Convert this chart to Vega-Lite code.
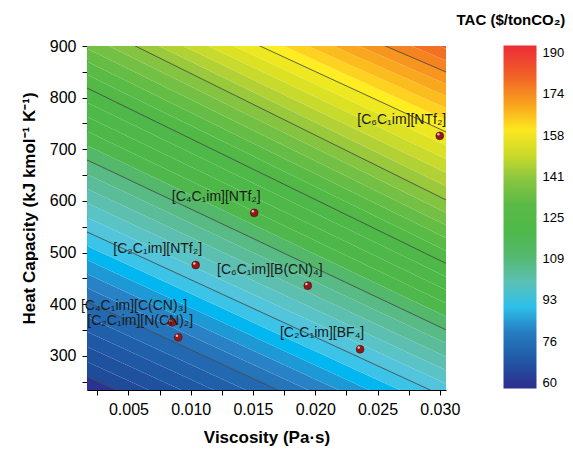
{
  "$schema": "https://vega.github.io/schema/vega-lite/v6.json",
  "width": 359,
  "height": 344,
  "autosize": {"type": "none"},
  "padding": {"left": 87, "top": 46, "right": 127, "bottom": 59},
  "background": "white",
  "config": {
    "font": "Liberation Sans",
    "view": {"stroke": null},
    "axis": {"grid": false, "domainColor": "#000", "tickColor": "#000", "labelColor": "#000", "titleColor": "#000", "tickSize": 5, "labelFontSize": 16, "titleFontSize": 17, "titleFontWeight": "bold", "labelPadding": 6}
  },
  "resolve": {"axis": {"x": "independent", "y": "independent"}},
  "datasets": {
    "bands": [
      {"t":58.375,"x":0.00167,"lo":230.5,"hi":259.5},{"t":58.375,"x":0.0305,"lo":-83.8,"hi":-55.9},
      {"t":61.625,"x":0.00167,"lo":259.5,"hi":288.5},{"t":61.625,"x":0.0305,"lo":-55.9,"hi":-28.0},
      {"t":64.875,"x":0.00167,"lo":288.5,"hi":317.5},{"t":64.875,"x":0.0305,"lo":-28.0,"hi":-0.2},
      {"t":68.125,"x":0.00167,"lo":317.5,"hi":346.6},{"t":68.125,"x":0.0305,"lo":-0.2,"hi":27.7},
      {"t":71.375,"x":0.00167,"lo":346.6,"hi":375.6},{"t":71.375,"x":0.0305,"lo":27.7,"hi":55.5},
      {"t":74.625,"x":0.00167,"lo":375.6,"hi":404.6},{"t":74.625,"x":0.0305,"lo":55.5,"hi":83.4},
      {"t":77.875,"x":0.00167,"lo":404.6,"hi":431.7},{"t":77.875,"x":0.0305,"lo":83.4,"hi":110.7},
      {"t":81.125,"x":0.00167,"lo":431.7,"hi":458.8},{"t":81.125,"x":0.0305,"lo":110.7,"hi":138.0},
      {"t":84.375,"x":0.00167,"lo":458.8,"hi":485.9},{"t":84.375,"x":0.0305,"lo":138.0,"hi":165.3},
      {"t":87.625,"x":0.00167,"lo":485.9,"hi":513.0},{"t":87.625,"x":0.0305,"lo":165.3,"hi":192.6},
      {"t":90.875,"x":0.00167,"lo":513.0,"hi":540.1},{"t":90.875,"x":0.0305,"lo":192.6,"hi":219.9},
      {"t":94.125,"x":0.00167,"lo":540.1,"hi":568.0},{"t":94.125,"x":0.0305,"lo":219.9,"hi":246.0},
      {"t":97.375,"x":0.00167,"lo":568.0,"hi":595.8},{"t":97.375,"x":0.0305,"lo":246.0,"hi":272.1},
      {"t":100.625,"x":0.00167,"lo":595.8,"hi":623.7},{"t":100.625,"x":0.0305,"lo":272.1,"hi":298.3},
      {"t":103.875,"x":0.00167,"lo":623.7,"hi":651.5},{"t":103.875,"x":0.0305,"lo":298.3,"hi":324.4},
      {"t":107.125,"x":0.00167,"lo":651.5,"hi":679.4},{"t":107.125,"x":0.0305,"lo":324.4,"hi":350.5},
      {"t":110.375,"x":0.00167,"lo":679.4,"hi":707.3},{"t":110.375,"x":0.0305,"lo":350.5,"hi":376.2},
      {"t":113.625,"x":0.00167,"lo":707.3,"hi":735.1},{"t":113.625,"x":0.0305,"lo":376.2,"hi":401.9},
      {"t":116.875,"x":0.00167,"lo":735.1,"hi":763.0},{"t":116.875,"x":0.0305,"lo":401.9,"hi":427.7},
      {"t":120.125,"x":0.00167,"lo":763.0,"hi":790.8},{"t":120.125,"x":0.0305,"lo":427.7,"hi":453.4},
      {"t":123.375,"x":0.00167,"lo":790.8,"hi":818.7},{"t":123.375,"x":0.0305,"lo":453.4,"hi":479.1},
      {"t":126.625,"x":0.00167,"lo":818.7,"hi":844.2},{"t":126.625,"x":0.0305,"lo":479.1,"hi":503.7},
      {"t":129.875,"x":0.00167,"lo":844.2,"hi":869.8},{"t":129.875,"x":0.0305,"lo":503.7,"hi":528.3},
      {"t":133.125,"x":0.00167,"lo":869.8,"hi":895.3},{"t":133.125,"x":0.0305,"lo":528.3,"hi":552.8},
      {"t":136.375,"x":0.00167,"lo":895.3,"hi":920.9},{"t":136.375,"x":0.0305,"lo":552.8,"hi":577.4},
      {"t":139.625,"x":0.00167,"lo":920.9,"hi":946.4},{"t":139.625,"x":0.0305,"lo":577.4,"hi":602.0},
      {"t":142.875,"x":0.00167,"lo":946.4,"hi":968.1},{"t":142.875,"x":0.0305,"lo":602.0,"hi":628.3},
      {"t":146.125,"x":0.00167,"lo":968.1,"hi":989.8},{"t":146.125,"x":0.0305,"lo":628.3,"hi":654.6},
      {"t":149.375,"x":0.00167,"lo":989.8,"hi":1011.4},{"t":149.375,"x":0.0305,"lo":654.6,"hi":681.0},
      {"t":152.625,"x":0.00167,"lo":1011.4,"hi":1033.1},{"t":152.625,"x":0.0305,"lo":681.0,"hi":707.3},
      {"t":155.875,"x":0.00167,"lo":1033.1,"hi":1054.8},{"t":155.875,"x":0.0305,"lo":707.3,"hi":733.6},
      {"t":159.125,"x":0.00167,"lo":1054.8,"hi":1073.4},{"t":159.125,"x":0.0305,"lo":733.6,"hi":756.8},
      {"t":162.375,"x":0.00167,"lo":1073.4,"hi":1092.0},{"t":162.375,"x":0.0305,"lo":756.8,"hi":780.0},
      {"t":165.625,"x":0.00167,"lo":1092.0,"hi":1110.5},{"t":165.625,"x":0.0305,"lo":780.0,"hi":803.3},
      {"t":168.875,"x":0.00167,"lo":1110.5,"hi":1129.1},{"t":168.875,"x":0.0305,"lo":803.3,"hi":826.5},
      {"t":172.125,"x":0.00167,"lo":1129.1,"hi":1147.7},{"t":172.125,"x":0.0305,"lo":826.5,"hi":849.7},
      {"t":175.375,"x":0.00167,"lo":1147.7,"hi":1165.1},{"t":175.375,"x":0.0305,"lo":849.7,"hi":872.1},
      {"t":178.625,"x":0.00167,"lo":1165.1,"hi":1182.5},{"t":178.625,"x":0.0305,"lo":872.1,"hi":894.6},
      {"t":181.875,"x":0.00167,"lo":1182.5,"hi":1199.9},{"t":181.875,"x":0.0305,"lo":894.6,"hi":917.0}
    ],
    "contours": [
      {"lv":60,"x":0.00167,"y":259.5},{"lv":60,"x":0.0305,"y":-55.9},
      {"lv":76.25,"x":0.00167,"y":404.6},{"lv":76.25,"x":0.0305,"y":83.4},
      {"lv":92.5,"x":0.00167,"y":540.1},{"lv":92.5,"x":0.0305,"y":219.9},
      {"lv":108.75,"x":0.00167,"y":679.4},{"lv":108.75,"x":0.0305,"y":350.5},
      {"lv":125,"x":0.00167,"y":818.7},{"lv":125,"x":0.0305,"y":479.1},
      {"lv":141.25,"x":0.00167,"y":946.4},{"lv":141.25,"x":0.0305,"y":602.0},
      {"lv":157.5,"x":0.00167,"y":1054.8},{"lv":157.5,"x":0.0305,"y":733.6},
      {"lv":173.75,"x":0.00167,"y":1147.7},{"lv":173.75,"x":0.0305,"y":849.7}
    ],
    "ils": [
      {"name":"[C₆C₁im][NTf₂]","x":0.0300,"y":726},
      {"name":"[C₄C₁im][NTf₂]","x":0.0151,"y":577},
      {"name":"[C₂C₁im][NTf₂]","x":0.0104,"y":476},
      {"name":"[C₆C₁im][B(CN)₄]","x":0.0194,"y":436},
      {"name":"[C₄C₁im][C(CN)₃]","x":0.0085,"y":365},
      {"name":"[C₂C₁im][N(CN)₂]","x":0.0090,"y":336},
      {"name":"[C₂C₁im][BF₄]","x":0.0236,"y":313}
    ]
  },
  "layer": [
    {
      "data": {"name": "bands"},
      "mark": {"type": "area", "clip": true},
      "encoding": {
        "x": {"field": "x", "type": "quantitative", "scale": {"domain": [0.00167, 0.0305], "nice": false, "zero": false},
          "axis": {"orient": "bottom", "title": "Viscosity (Pa·s)", "values": [0.005,0.01,0.015,0.02,0.025,0.03], "format": ".3f", "labelFlush": false, "titlePadding": 12}},
        "y": {"field": "hi", "type": "quantitative", "scale": {"domain": [234, 900], "nice": false, "zero": false},
          "axis": {"orient": "left", "title": "Heat Capacity (kJ kmol⁻¹ K⁻¹)", "values": [300,400,500,600,700,800,900], "labelFlush": false, "titlePadding": 11, "titleY": 162}},
        "y2": {"field": "lo"},
        "detail": {"field": "t"},
        "color": {"field": "t", "type": "quantitative",
          "scale": {"domain": [57.8,60,60.8,66,72,78,82,85,87.5,91,95,99,104,109,114,125,131,136,141,146,151,156,159,162,166,170,174,178,182,186,193],
                    "range": ["#2c3190","#2d3592","#1f4a98","#1f53a1","#2061ab","#2674ba","#2886c8","#1a9ed9","#00b7ef","#3ec3e8","#58c6d8","#5cc1ba","#5bbc98","#56b878","#4db848","#4eb848","#5cba46","#72c044","#8cc63f","#b0d135","#d3de27","#eee81f","#fdee21","#fed51f","#fbb91d","#f8a11d","#f68b1f","#f37422","#f15a29","#ef4430","#ec2f36"],
                    "interpolate": "rgb"},
          "legend": {"type": "gradient", "orient": "none", "legendX": 369.5, "legendY": -33.5, "padding": 0, "direction": "vertical",
            "title": "TAC ($/tonCO₂)", "titleFontSize": 15, "titleFontWeight": "bold", "titleColor": "#000", "titleAnchor": "start", "titlePadding": 18, "titleLimit": 400,
            "gradientLength": 343, "gradientThickness": 33, "gradientStrokeWidth": 0,
            "values": [60,76.25,92.5,108.75,125,141.25,157.5,173.75,190], "format": ".0f",
            "labelFontSize": 13, "labelColor": "#000", "labelOffset": 6, "labelOverlap": false,
            "encode": {"title": {"update": {"dx": {"value": -47}}}}}}
      }
    },
    {
      "data": {"name": "contours"},
      "mark": {"type": "line", "clip": true, "color": "#3a3a3a", "strokeWidth": 0.8},
      "encoding": {
        "x": {"field": "x", "type": "quantitative", "scale": {"domain": [0.00167, 0.0305], "nice": false, "zero": false},
          "axis": {"orient": "bottom", "values": [0.0025,0.0075,0.0125,0.0175,0.0225,0.0275], "labels": false, "title": null, "domain": false}},
        "y": {"field": "y", "type": "quantitative", "scale": {"domain": [234, 900], "nice": false, "zero": false},
          "axis": {"orient": "left", "values": [250,350,450,550,650,750,850], "labels": false, "title": null, "domain": false}},
        "detail": {"field": "lv"}
      }
    },
    {
      "mark": {"type": "rect", "fillOpacity": 0, "stroke": "#000", "strokeWidth": 1},
      "encoding": {
        "x": {"datum": 0.00167, "type": "quantitative", "axis": null},
        "x2": {"datum": 0.0305},
        "y": {"datum": 234, "type": "quantitative", "axis": null},
        "y2": {"datum": 900}
      }
    },
    {
      "data": {"name": "ils"},
      "mark": {"type": "circle", "size": 62, "fill": "#8e1a1c", "stroke": "#5a0c0c", "strokeWidth": 0.6, "opacity": 1},
      "encoding": {
        "x": {"field": "x", "type": "quantitative", "axis": null, "scale": {"domain": [0.00167, 0.0305], "nice": false, "zero": false}},
        "y": {"field": "y", "type": "quantitative", "axis": null, "scale": {"domain": [234, 900], "nice": false, "zero": false}}
      }
    },
    {
      "data": {"name": "ils"},
      "mark": {"type": "circle", "size": 6, "fill": "#f6d0d0", "opacity": 0.9, "xOffset": -1.4, "yOffset": -1.6},
      "encoding": {
        "x": {"field": "x", "type": "quantitative", "axis": null},
        "y": {"field": "y", "type": "quantitative", "axis": null}
      }
    },
    {
      "data": {"name": "ils"},
      "mark": {"type": "text", "fontSize": 14, "align": "center", "baseline": "middle", "dx": -38, "dy": -16, "color": "#1a1a1a"},
      "encoding": {
        "x": {"field": "x", "type": "quantitative", "axis": null},
        "y": {"field": "y", "type": "quantitative", "axis": null},
        "text": {"field": "name"}
      }
    }
  ]
}
